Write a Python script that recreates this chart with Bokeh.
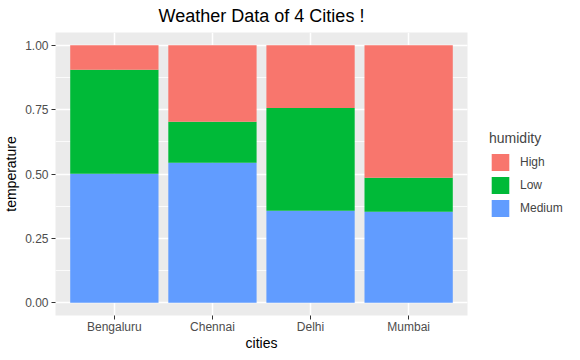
from bokeh.plotting import figure
from bokeh.models import (ColumnDataSource, FactorRange, Legend, LegendItem,
                          SingleIntervalTicker, NumeralTickFormatter)
from bokeh.embed import file_html
from bokeh.resources import INLINE

cities = ["Bengaluru", "Chennai", "Delhi", "Mumbai"]
humidity = ["Medium", "Low", "High"]
medium = [0.501, 0.544, 0.357, 0.353]
low = [0.404, 0.159, 0.400, 0.132]
high = [0.095, 0.297, 0.243, 0.515]
colors = {"High": "#F8766D", "Low": "#00BA38", "Medium": "#619CFF"}

source = ColumnDataSource(dict(cities=cities, Medium=medium, Low=low, High=high))

FONT = "Liberation Sans"

p = figure(frame_width=412, frame_height=283, output_backend="svg", toolbar_location=None,
           x_range=FactorRange(factors=cities, range_padding=0.1,
                               range_padding_units="absolute"),
           y_range=(-0.05, 1.05),
           min_border_left=49, min_border_right=103, min_border_top=32,
           min_border_bottom=37,
           title="Weather Data of 4 Cities !")

renderers = p.vbar_stack(humidity, x="cities", width=0.9, source=source,
                         color=[colors[h] for h in humidity], line_color=None)

p.background_fill_color = "#EBEBEB"
p.border_fill_color = "white"
p.outline_line_color = None

p.title.align = "center"
p.title.vertical_align = "top"
p.title.text_font = FONT
p.title.text_font_size = "18px"
p.title.text_font_style = "normal"
p.title.text_color = "black"
p.title.standoff = 10

# axes
p.xaxis.axis_label = "cities"
p.yaxis.axis_label = "temperature"
for ax in (p.xaxis[0], p.yaxis[0]):
    ax.axis_line_color = None
    ax.major_tick_line_color = "#333333"
    ax.major_tick_in = 0
    ax.major_tick_out = 4
    ax.minor_tick_line_color = None
    ax.major_label_text_font = FONT
    ax.major_label_text_font_size = "12px"
    ax.major_label_text_color = "#4D4D4D"
    ax.axis_label_text_font = FONT
    ax.axis_label_text_font_size = "14px"
    ax.axis_label_text_font_style = "normal"
    ax.axis_label_text_color = "black"
p.xaxis.major_label_standoff = 0
p.xaxis.axis_label_standoff = -2
p.yaxis.major_label_standoff = 3
p.yaxis.axis_label_standoff = 3

p.yaxis.ticker = SingleIntervalTicker(interval=0.25, num_minor_ticks=2)
p.yaxis.formatter = NumeralTickFormatter(format="0.00")

p.xgrid.grid_line_color = "white"
p.xgrid.grid_line_width = 1.5
p.ygrid.grid_line_color = "white"
p.ygrid.grid_line_width = 1.5
p.ygrid.minor_grid_line_color = "white"
p.ygrid.minor_grid_line_width = 0.8

# legend (ordered High, Low, Medium)
order = ["High", "Low", "Medium"]
items = [LegendItem(label=h, renderers=[renderers[humidity.index(h)]]) for h in order]
legend = Legend(items=items, title="humidity", location="center_left",
                orientation="vertical")
legend.title_text_font = FONT
legend.title_text_font_size = "14px"
legend.title_text_font_style = "normal"
legend.title_standoff = 6
legend.label_text_font = FONT
legend.label_text_font_size = "12px"
legend.glyph_width = 22
legend.glyph_height = 21
legend.label_height = 21
legend.spacing = 2
legend.label_standoff = 9
legend.padding = 0
legend.margin = 22
legend.border_line_color = None
legend.background_fill_alpha = 0
p.add_layout(legend, "right")

open("out.html", "w").write(file_html(p, INLINE))
